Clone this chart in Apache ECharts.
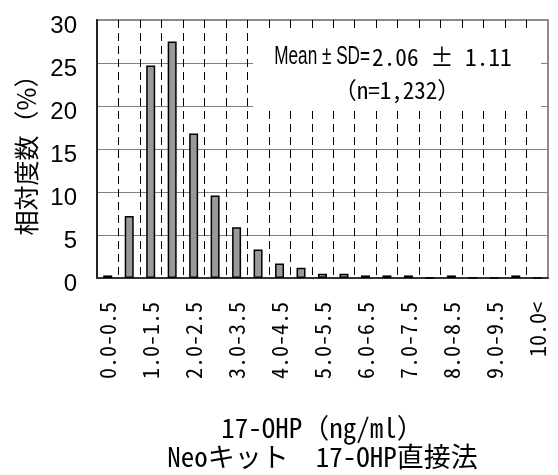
<!DOCTYPE html>
<html>
<head>
<meta charset="utf-8">
<script src="https://cdn.jsdelivr.net/npm/echarts@6/dist/echarts.min.js"></script>
<style>
  html, body { margin: 0; padding: 0; background: #fff; }
  #chart { width: 558px; height: 475px; }
</style>
</head>
<body>
<div id="chart"></div>
<script>
// 17-OHP concentration bins (ng/ml)
const categories = [
  '0.0-0.5', '0.5-1.0', '1.0-1.5', '1.5-2.0', '2.0-2.5', '2.5-3.0', '3.0-3.5',
  '3.5-4.0', '4.0-4.5', '4.5-5.0', '5.0-5.5', '5.5-6.0', '6.0-6.5', '6.5-7.0',
  '7.0-7.5', '7.5-8.0', '8.0-8.5', '8.5-9.0', '9.0-9.5', '9.5-10.0', '10.0<'
];

// relative frequency per bin (%)
const percents = [
  0.3, 7.2, 24.7, 27.5, 16.8, 9.6, 5.9,
  3.3, 1.7, 1.2, 0.5, 0.5, 0.3, 0.3,
  0.3, 0, 0.3, 0, 0, 0.3, 0
];

// value axis range (%)
const yMin = 0;
const yMax = 30;
const yStep = 5;

// summary statistics shown in the legend box
const statLabel = 'Mean ± SD=';
const statValue = '2.06 ± 1.11';
const countLabel = '（n=1,232）';

const yName = '相対度数（%）';
const xName = '17-OHP（ng/ml）\nNeoキット　17-OHP直接法';

const monoCJK = "'Noto Sans Mono CJK JP', 'DejaVu Sans Mono', 'Noto Sans CJK JP', monospace";

const chart = echarts.init(document.getElementById('chart'), null, { renderer: 'canvas' });

chart.setOption({
  animation: false,
  backgroundColor: '#fff',
  grid: {
    left: 97, right: 10, top: 20, bottom: 197,
    containLabel: false,
    outerBoundsMode: 'none',
    show: true,
    borderColor: '#8c8c8c',
    borderWidth: 2,
    backgroundColor: 'transparent'
  },
  xAxis: {
    type: 'category',
    data: categories,
    boundaryGap: true,
    axisLine: { show: true, lineStyle: { color: '#333', width: 2 } },
    axisTick: { show: false },
    axisLabel: {
      interval: 1,
      rotate: 90,
      margin: 24,
      color: '#000',
      fontSize: 22,
      fontFamily: monoCJK
    },
    splitLine: {
      show: true,
      interval: 0,
      showMinLine: false,
      showMaxLine: false,
      lineStyle: { color: '#000', width: 1, type: [8, 5] }
    },
    name: xName,
    nameLocation: 'middle',
    nameGap: 135,
    nameTextStyle: {
      color: '#000',
      fontSize: 27,
      lineHeight: 29,
      fontFamily: monoCJK
    }
  },
  yAxis: {
    type: 'value',
    min: yMin,
    max: yMax,
    interval: yStep,
    axisLine: { show: true, lineStyle: { color: '#222', width: 2 } },
    axisTick: { show: false },
    axisLabel: {
      margin: 20,
      formatter: '{v|{value}}',
      rich: {
        v: {
          color: '#000',
          fontSize: 24,
          lineHeight: 24,
          padding: [12, 0, 0, 0],
          fontFamily: "'Liberation Sans', Arial, sans-serif"
        }
      }
    },
    splitLine: {
      show: true,
      showMinLine: false,
      showMaxLine: false,
      lineStyle: { color: '#808080', width: 1 }
    },
    name: yName,
    nameLocation: 'middle',
    nameGap: 55,
    nameRotate: 90,
    nameTextStyle: {
      color: '#000',
      fontSize: 25,
      fontFamily: "'Noto Sans CJK JP', sans-serif"
    }
  },
  series: [{
    type: 'bar',
    data: percents,
    barWidth: 9,
    itemStyle: {
      color: '#999999',
      borderColor: '#000',
      borderWidth: 1.5
    },
    z: 2
  }],
  graphic: [
    {
      type: 'rect',
      z: 1,
      shape: { x: 253, y: 31, width: 288, height: 79 },
      style: { fill: '#fff' }
    },
    {
      type: 'text',
      z: 3,
      x: 370, y: 57,
      scaleX: 0.66,
      style: {
        text: statLabel,
        x: 0, y: 0,
        fill: '#000',
        font: "26px 'Liberation Sans', Arial, sans-serif",
        align: 'right', textAlign: 'right',
        verticalAlign: 'middle', textVerticalAlign: 'middle'
      }
    },
    {
      type: 'text',
      z: 3,
      x: 372, y: 57,
      scaleX: 0.97,
      style: {
        text: statValue,
        x: 0, y: 0,
        fill: '#000',
        font: "24px " + monoCJK,
        align: 'left', textAlign: 'left',
        verticalAlign: 'middle', textVerticalAlign: 'middle'
      }
    },
    {
      type: 'text',
      z: 3,
      x: 397, y: 90,
      style: {
        text: countLabel,
        x: 0, y: 0,
        fill: '#000',
        font: "23px " + monoCJK,
        align: 'center', textAlign: 'center',
        verticalAlign: 'middle', textVerticalAlign: 'middle'
      }
    }
  ]
});
</script>
</body>
</html>
